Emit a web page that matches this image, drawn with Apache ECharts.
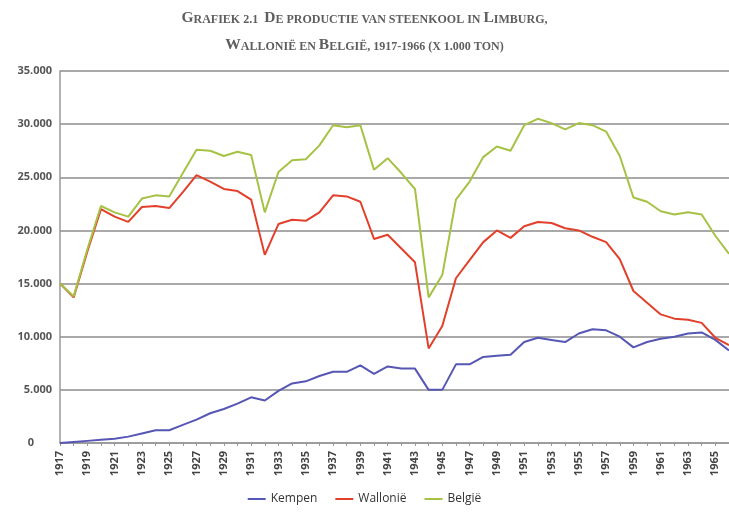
<!DOCTYPE html>
<html>
<head>
<meta charset="utf-8">
<script src="https://cdn.jsdelivr.net/npm/echarts@6/dist/echarts.min.js"></script>
<style>
  html, body { margin: 0; padding: 0; background: #fff; }
  #chart { width: 729px; height: 513px; }
</style>
</head>
<body>
<div id="chart"></div>
<script>
// jaren 1917-1966
const years = ["1917","1918","1919","1920","1921","1922","1923","1924","1925","1926",
  "1927","1928","1929","1930","1931","1932","1933","1934","1935","1936",
  "1937","1938","1939","1940","1941","1942","1943","1944","1945","1946",
  "1947","1948","1949","1950","1951","1952","1953","1954","1955","1956",
  "1957","1958","1959","1960","1961","1962","1963","1964","1965","1966"];

// productie x 1.000 ton
const kempen = [0, 100, 200, 300, 400, 600, 900, 1200, 1200, 1700,
  2200, 2800, 3200, 3700, 4300, 4000, 4900, 5600, 5800, 6300,
  6700, 6700, 7300, 6500, 7200, 7000, 7000, 5000, 5000, 7400,
  7400, 8100, 8200, 8300, 9500, 9900, 9700, 9500, 10300, 10700,
  10600, 10000, 9000, 9500, 9800, 10000, 10300, 10400, 9700, 8700];

const wallonie = [15000, 13700, 18000, 22000, 21300, 20800, 22200, 22300, 22100, 23600,
  25200, 24600, 23900, 23700, 22900, 17700, 20600, 21000, 20900, 21700,
  23300, 23200, 22700, 19200, 19600, 18300, 17000, 8900, 11000, 15500,
  17200, 18900, 20000, 19300, 20400, 20800, 20700, 20200, 20000, 19400,
  18900, 17300, 14300, 13200, 12100, 11700, 11600, 11300, 9900, 9200];

const belgie = [15000, 13800, 18200, 22300, 21700, 21300, 23000, 23300, 23200, 25400,
  27600, 27500, 27000, 27400, 27100, 21700, 25500, 26600, 26700, 28000,
  29900, 29700, 29900, 25700, 26800, 25400, 23900, 13700, 15800, 22900,
  24600, 26900, 27900, 27500, 29900, 30500, 30100, 29500, 30100, 29900,
  29300, 27000, 23100, 22700, 21800, 21500, 21700, 21500, 19500, 17800];

const titleLines = [
  "Grafiek 2.1  De productie van steenkool in Limburg,",
  "Wallonië en België, 1917-1966 (x 1.000 ton)"
];

// kleinkapitalen nabootsen met rich text: alleen hoofdletters groot
function smallCaps(str) {
  let out = "";
  let buf = "";
  let cur = null;
  for (const ch of str) {
    const isCap = ch !== ch.toLowerCase();
    let type = isCap ? "b" : "s";
    if (type !== cur && buf) {
      out += "{" + cur + "|" + buf + "}";
      buf = "";
    }
    cur = type;
    buf += ch.toUpperCase();
  }
  if (buf) out += "{" + cur + "|" + buf + "}";
  return out;
}

const titleFont = { fontFamily: "Liberation Serif", fontWeight: "bold", color: "#5e5e5e", verticalAlign: "bottom" };

const chart = echarts.init(document.getElementById("chart"));
const option = {
  backgroundColor: "#fff",
  animation: false,
  title: {
    text: titleLines.map(smallCaps).join("\n"),
    left: "center",
    top: -1,
    padding: 0,
    textStyle: {
      fontFamily: "Liberation Serif",
      fontWeight: "bold",
      color: "#5e5e5e",
      lineHeight: 27,
      rich: {
        b: Object.assign({ fontSize: 15.5, lineHeight: 27 }, titleFont),
        s: Object.assign({ fontSize: 12, lineHeight: 24.6 }, titleFont)
      }
    }
  },
  legend: {
    data: ["Kempen", "Wallonië", "België"],
    bottom: 3,
    left: "center",
    icon: "rect",
    itemWidth: 18,
    itemHeight: 2,
    itemGap: 18,
    textStyle: { fontFamily: "Open Sans", fontSize: 12, color: "#333" }
  },
  grid: {
    left: 60,
    right: -3,
    top: 71,
    bottom: 70
  },
  xAxis: {
    type: "category",
    data: years,
    boundaryGap: false,
    axisLine: { lineStyle: { color: "#999", width: 1.5 } },
    axisTick: { interval: 0, length: 3, lineStyle: { color: "#999" } },
    axisLabel: {
      interval: 1,
      rotate: 90,
      margin: 8,
      fontFamily: "Open Sans",
      fontWeight: "bold",
      fontSize: 11,
      color: "#444"
    }
  },
  yAxis: {
    type: "value",
    min: 0,
    max: 35000,
    interval: 5000,
    axisLine: { show: true, lineStyle: { color: "#999", width: 1.5 } },
    axisTick: { show: false },
    splitLine: { lineStyle: { color: "#8c8c8c", width: 1.5 } },
    axisLabel: {
      margin: 8,
      fontFamily: "Open Sans",
      fontWeight: "bold",
      fontSize: 11,
      color: "#555",
      formatter: function (v) {
        if (v === 0) return "{z|0}";
        return String(v).replace(/\B(?=(\d{3})+(?!\d))/g, ".");
      },
      rich: {
        z: { fontFamily: "Open Sans", fontWeight: "bold", fontSize: 11, color: "#555", padding: [0, 18, 0, 0] }
      }
    }
  },
  series: [
    {
      name: "Kempen",
      type: "line",
      data: kempen,
      symbol: "none",
      lineStyle: { color: "#5656b4", width: 2 },
      itemStyle: { color: "#5656b4" }
    },
    {
      name: "Wallonië",
      type: "line",
      data: wallonie,
      symbol: "none",
      lineStyle: { color: "#e2402b", width: 2 },
      itemStyle: { color: "#e2402b" }
    },
    {
      name: "België",
      type: "line",
      data: belgie,
      symbol: "none",
      lineStyle: { color: "#a6c245", width: 2 },
      itemStyle: { color: "#a6c245" }
    }
  ]
};
chart.setOption(option, true);
</script>
</body>
</html>
